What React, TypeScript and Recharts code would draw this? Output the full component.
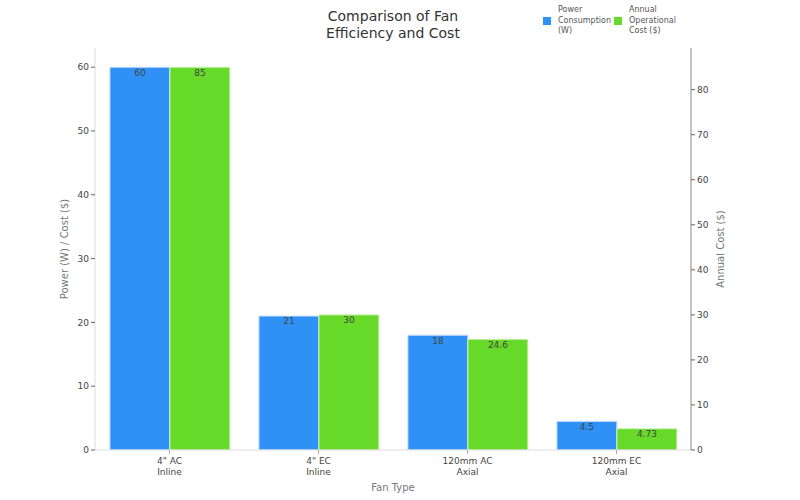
import React from "react";
import { BarChart, Bar, XAxis, YAxis, LabelList, Label } from "recharts";

const categories = ['4" AC\nInline', '4" EC\nInline', "120mm AC\nAxial", "120mm EC\nAxial"];
const powerW = [60, 21, 18, 4.5];
const annualCost = [85, 30, 24.6, 4.73];
const leftTicks = [0, 10, 20, 30, 40, 50, 60];
const rightTicks = [0, 10, 20, 30, 40, 50, 60, 70, 80];
const legendItems = [
  { key: "power", lines: ["Power", "Consumption", "(W)"] },
  { key: "cost", lines: ["Annual", "Operational", "Cost ($)"] },
];

const data = categories.map((c, i) => ({ name: c, power: powerW[i], cost: annualCost[i] }));

const FONT = "'DejaVu Sans', sans-serif";
const BLUE = "#2f91f5";
const GREEN = "#67d929";
const COLORS: Record<string, string> = { power: BLUE, cost: GREEN };

const XTick = (props: any) => {
  const { x, y, payload } = props;
  const lines = String(payload.value).split("\n");
  return (
    <g transform={`translate(${x},${y})`}>
      {lines.map((l, i) => (
        <text key={i} x={0} y={8 + i * 11} textAnchor="middle" fontSize={9} fill="#444" fontFamily={FONT}>
          {l}
        </text>
      ))}
    </g>
  );
};

const RotLabel = (text: string, dx: number) => (props: any) => {
  const vb = props.viewBox;
  const cx = vb.x + dx;
  const cy = vb.y + vb.height / 2;
  return (
    <text x={cx} y={cy} transform={`rotate(-90, ${cx}, ${cy})`} textAnchor="middle" dominantBaseline="central" fontSize={10} fill="#777" fontFamily={FONT}>
      {text}
    </text>
  );
};

export default function App() {
  return (
    <div style={{ position: "absolute", left: 0, top: 0, width: 800, height: 500, background: "#fff" }}>
      <div
        style={{
          position: "absolute",
          left: 293,
          top: 8,
          width: 200,
          textAlign: "center",
          fontFamily: FONT,
          fontSize: 14,
          lineHeight: "17px",
          color: "#333",
        }}
      >
        Comparison of Fan
        <br />
        Efficiency and Cost
      </div>
      <div style={{ position: "absolute", left: 543, top: 5, display: "flex", zIndex: 2 }}>
        {legendItems.map((it) => (
          <div key={it.key} style={{ display: "flex", alignItems: "center", width: it.key === "power" ? 71 : 80 }}>
            <div style={{ width: 8, height: 8, background: COLORS[it.key], marginRight: 7 }} />
            <div style={{ fontSize: 8, lineHeight: "10.5px", color: "#555", fontFamily: FONT }}>
              {it.lines.map((l, i) => (
                <div key={i}>{l}</div>
              ))}
            </div>
          </div>
        ))}
      </div>
      <BarChart
        width={800}
        height={500}
        data={data}
        margin={{ top: 48, right: 0, bottom: 0, left: 0 }}
        barCategoryGap="10%"
        barGap={0}
      >
        <XAxis
          dataKey="name"
          height={50}
          tick={XTick}
          interval={0}
          axisLine={{ stroke: "#ddd" }}
          tickLine={{ stroke: "#aaa" }}
          tickSize={4}
        >
          <Label
            content={(p: any) => (
              <text x={p.viewBox.x + p.viewBox.width / 2} y={p.viewBox.y + 41} textAnchor="middle" fontSize={10} fill="#777" fontFamily={FONT}>
                Fan Type
              </text>
            )}
          />
        </XAxis>
        <YAxis
          yAxisId="left"
          width={95}
          domain={[0, 63]}
          ticks={leftTicks}
          allowDataOverflow
          tick={{ fontSize: 9, fill: "#444", fontFamily: FONT }}
          axisLine={{ stroke: "#ddd" }}
          tickLine={{ stroke: "#666" }}
          tickSize={4}
        >
          <Label content={RotLabel("Power (W) / Cost ($)", 64)} />
        </YAxis>
        <YAxis
          yAxisId="right"
          orientation="right"
          width={109}
          domain={[0, 89.25]}
          ticks={rightTicks}
          allowDataOverflow
          tick={{ fontSize: 9, fill: "#444", fontFamily: FONT }}
          axisLine={{ stroke: "#888" }}
          tickLine={{ stroke: "#666" }}
          tickSize={4}
        >
          <Label content={RotLabel("Annual Cost ($)", 29)} />
        </YAxis>
        <Bar yAxisId="left" dataKey="power" fill={BLUE} stroke="#cfe4fb" strokeWidth={1} isAnimationActive={false}>
          <LabelList dataKey="power" position="insideTop" offset={2} fontSize={9} fill="#444" fontFamily={FONT} />
        </Bar>
        <Bar yAxisId="right" dataKey="cost" fill={GREEN} stroke="#d4f3c2" strokeWidth={1} isAnimationActive={false}>
          <LabelList dataKey="cost" position="insideTop" offset={2} fontSize={9} fill="#444" fontFamily={FONT} />
        </Bar>
      </BarChart>
    </div>
  );
}
